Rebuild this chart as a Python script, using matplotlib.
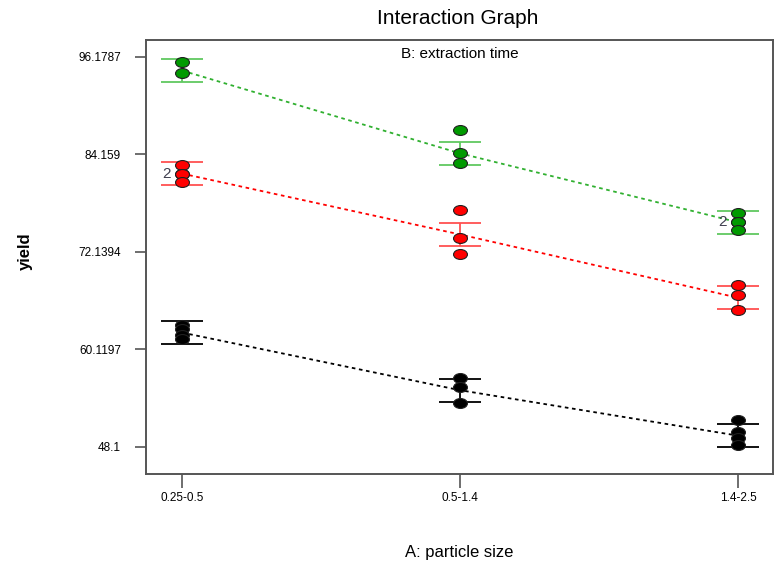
import matplotlib
matplotlib.use("Agg")
import matplotlib.pyplot as plt
import numpy as np
from matplotlib.path import Path
from matplotlib.transforms import Affine2D
from collections import Counter

categories = ["0.25-0.5", "0.5-1.4", "1.4-2.5"]
y_ticks = [48.1, 60.1197, 72.1394, 84.159, 96.1787]

green_obs = [[95.6, 94.2], [87.2, 84.3, 83.1], [76.9, 75.8, 75.8, 74.8]]
red_obs = [[82.9, 81.8, 81.8, 80.8], [77.3, 73.9, 71.9], [68.1, 66.8, 65.0]]
black_obs = [[63.2, 62.6, 61.9, 61.4], [56.6, 55.5, 53.5], [51.4, 49.9, 49.2, 48.3]]

green_mean = [94.5, 84.3, 75.8]
red_mean = [81.8, 74.3, 66.5]
black_mean = [62.2, 55.1, 49.5]
lsd_half = [1.4, 1.4, 1.4]

plt.rcParams['font.family'] = ['Liberation Sans', 'DejaVu Sans']

fig = plt.figure(figsize=(7.79, 5.7), dpi=100)
ax = fig.add_axes([0.1874, 0.1684, 0.8049, 0.7614])

ellipse = Path.unit_circle().transformed(Affine2D().scale(1.4, 1.0))

series = [
    (black_obs, black_mean, "#000000", "#000000", "#000000"),
    (red_obs, red_mean, "#ff0000", "#ff5050", "#ff0000"),
    (green_obs, green_mean, "#009a00", "#60c860", "#30b030"),
]

x = np.arange(len(categories))
for obs, mean, mcol, ecol, lcol in series:
    ax.plot(x, mean, linestyle=(0, (2, 2)), color=lcol, lw=1.3, zorder=2)
    ax.errorbar(x, mean, yerr=lsd_half, fmt='none', ecolor=ecol, elinewidth=1.3,
                capsize=15, capthick=1.3, zorder=3)
    for i, vals in enumerate(obs):
        ax.plot([x[i]] * len(vals), vals, linestyle='none', marker=ellipse,
                markersize=10, markerfacecolor=mcol, markeredgecolor='#202020',
                markeredgewidth=0.8, zorder=4)
        counts = Counter(vals)
        for v, c in counts.items():
            if c > 1:
                ax.text(x[i] - 0.042, v, str(c), ha='right', va='center',
                        fontsize=11, color='#404050', zorder=5)

ax.set_xlim(-0.13, 2.126)
ax.set_ylim(44.77, 98.27)
ax.set_xticks(x)
ax.set_xticklabels(categories, fontsize=8.5)
ax.set_yticks(y_ticks)
ax.set_yticklabels([f"{t:g}" for t in y_ticks], fontsize=8.5)
ax.tick_params(axis='y', direction='out', length=8, width=1.2, color='#555555', pad=10)
ax.tick_params(axis='x', direction='out', length=10, width=1.2, color='#555555', pad=3)
for s in ax.spines.values():
    s.set_color('#555555')
    s.set_linewidth(1.4)

fig.text(0.588, 0.968, "Interaction Graph", ha='center', va='center', fontsize=15)
ax.text(0.5, 0.985, "B: extraction time", transform=ax.transAxes, ha='center',
        va='top', fontsize=11)
fig.text(0.033, 0.56, "yield", rotation=90, ha='center', va='center', fontsize=12,
         fontweight='bold')
fig.text(0.59, 0.03, "A: particle size", ha='center', va='center', fontsize=12)

fig.savefig("out.png", dpi=100)
